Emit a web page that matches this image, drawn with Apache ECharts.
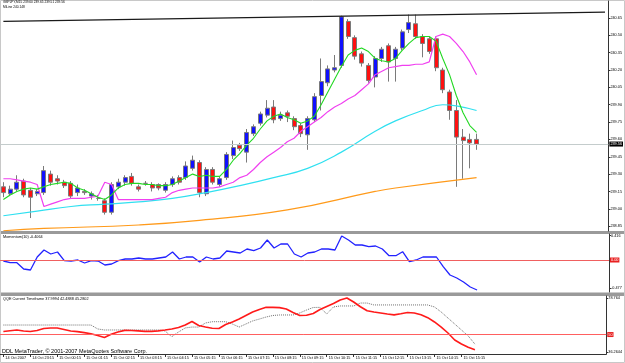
<!DOCTYPE html>
<html>
<head>
<meta charset="utf-8">
<script src="https://cdn.jsdelivr.net/npm/echarts@6/dist/echarts.min.js"></script>
<style>
html, body { margin: 0; padding: 0; background: #fff; }
#chart { width: 625px; height: 363px; }
</style>
</head>
<body>
<div id="chart"></div>
<script>
// GBPJPY M15 candles, 14 Oct 22:15 .. 15 Oct 15:45
const opens  = [239.19,239.13,239.17,239.24,239.16,239.13,239.14,239.30,239.26,239.23,239.22,239.14,239.15,239.11,239.09,239.07,238.97,239.19,239.23,239.28,239.19,239.22,239.21,239.21,239.16,239.21,239.27,239.27,239.35,239.40,239.13,239.34,239.21,239.27,239.46,239.55,239.49,239.65,239.74,239.81,239.88,239.78,239.83,239.78,239.72,239.64,239.77,239.98,240.09,240.20,240.24,240.62,240.48,240.34,240.24,240.14,240.30,240.41,240.30,240.39,240.55,240.60,240.49,240.47,240.47,240.20,240.01,239.85,239.62,239.60,239.60];
const highs  = [239.23,239.20,239.29,239.26,239.18,239.17,239.37,239.33,239.29,239.25,239.24,239.21,239.17,239.15,239.12,239.09,239.23,239.26,239.29,239.31,239.21,239.24,239.23,239.22,239.23,239.28,239.29,239.41,239.46,239.42,239.36,239.36,239.28,239.49,239.59,239.57,239.69,239.73,239.84,239.94,239.94,239.84,239.85,239.80,239.74,239.80,240.00,240.30,240.24,240.33,240.67,240.64,240.50,240.36,240.26,240.32,240.40,240.43,240.40,240.55,240.68,240.68,240.51,240.49,240.49,240.22,240.03,239.94,239.69,239.65,239.65];
const lows   = [239.10,239.11,239.15,239.10,238.92,239.11,239.12,239.20,239.21,239.18,239.09,239.11,239.12,239.08,239.07,238.95,238.95,239.17,239.20,239.20,239.15,239.20,239.15,239.16,239.14,239.19,239.21,239.25,239.33,239.10,239.11,239.21,239.19,239.25,239.43,239.50,239.40,239.63,239.72,239.79,239.74,239.76,239.75,239.68,239.62,239.51,239.75,239.85,240.06,240.18,240.22,240.47,240.29,240.23,240.09,240.05,240.27,240.10,240.10,240.37,240.52,240.47,240.31,240.34,240.19,240.00,239.77,239.19,239.26,239.35,239.51];
const closes = [239.14,239.17,239.23,239.12,239.10,239.15,239.33,239.23,239.24,239.20,239.11,239.18,239.14,239.13,239.09,238.97,239.21,239.23,239.27,239.22,239.17,239.22,239.18,239.18,239.21,239.26,239.23,239.37,239.42,239.14,239.34,239.23,239.26,239.47,239.53,239.52,239.66,239.71,239.82,239.87,239.77,239.81,239.80,239.71,239.65,239.78,239.97,240.10,240.21,240.22,240.66,240.49,240.32,240.26,240.11,240.30,240.38,240.27,240.38,240.53,240.61,240.49,240.43,240.36,240.22,240.03,239.85,239.62,239.59,239.57,239.56];

// moving averages on the price panel
const maGreen   = [239.08,239.12,239.15,239.17,239.18,239.17,239.19,239.21,239.22,239.23,239.22,239.18,239.16,239.13,239.10,239.08,239.12,239.18,239.21,239.22,239.22,239.21,239.21,239.20,239.20,239.21,239.24,239.27,239.30,239.28,239.29,239.28,239.28,239.34,239.42,239.48,239.55,239.61,239.69,239.76,239.80,239.82,239.79,239.77,239.74,239.76,239.80,239.90,240.01,240.12,240.23,240.33,240.37,240.39,240.36,240.30,240.28,240.27,240.30,240.37,240.43,240.48,240.49,240.49,240.45,240.30,240.16,239.98,239.83,239.72,239.66];
const maMagenta = [239.26,239.26,239.25,239.24,239.23,239.21,239.02,239.04,239.06,239.08,239.09,239.09,239.09,239.10,239.11,239.23,239.21,239.08,239.08,239.08,239.08,239.08,239.08,239.09,239.10,239.14,239.16,239.17,239.18,239.18,239.18,239.18,239.19,239.21,239.23,239.27,239.29,239.34,239.40,239.45,239.49,239.53,239.58,239.61,239.67,239.71,239.75,239.79,239.84,239.88,239.91,239.95,239.98,240.03,240.08,240.16,240.19,240.22,240.23,240.24,240.24,240.25,240.25,240.27,240.49,240.51,240.49,240.43,240.36,240.27,240.16];
const maCyan    = [[0,238.94],[5,238.98],[10,239.02],[15,239.04],[20,239.06],[25,239.09],[30,239.14],[35,239.20],[40,239.27],[45,239.35],[50,239.49],[55,239.67],[58,239.76],[62,239.85],[65,239.90],[67,239.89],[70,239.85]];
const maOrange  = [[0,238.81],[6,238.83],[20,238.86],[29,238.90],[42,238.99],[55,239.15],[58,239.18],[70,239.27]];
const trendLine = [[0,240.62],[89,240.70]];
const bid = 239.56;

// Momentum(10)
const momentum = [-0.017,-0.046,-0.046,-0.153,-0.17,0.051,0.17,0.102,0.136,-0.012,-0.017,0,-0.051,-0.012,-0.017,-0.085,-0.068,-0.012,0.017,0.017,0.034,0.017,0.017,0.034,0.051,0.136,0.017,0.051,0.051,-0.034,0.051,0.017,0.034,0.153,0.136,0.119,0.187,0.158,0.204,0.34,0.204,0.272,0.272,0.102,0.051,0.119,0.136,0.187,0.187,0.17,0.408,0.34,0.255,0.255,0.226,0.238,0.187,0.073,0.073,0.141,-0.029,0,0.051,0.051,0.051,-0.114,-0.255,-0.306,-0.374,-0.459,-0.51];

// QQE: fast (red) and trailing (dotted)
const qqeFast = [52.4,53.0,53.6,52.8,52.4,53.2,54.8,55.2,55.2,54.0,52.8,52.3,51.5,50.6,49.3,47.7,50.2,52.0,53.3,53.2,52.9,52.5,52.5,52.9,53.6,54.4,55.5,57.5,60.3,57.1,55.9,54.9,54.8,57.9,59.9,62.2,65.0,67.7,69.7,71.4,71.4,71.2,70.1,67.4,65.0,65.2,66.6,69.7,72.1,74.4,77.2,78.76,75.6,71.9,68.7,67.7,67.0,66.2,65.5,66.4,67.4,67.0,65.6,63.3,59.9,55.9,51.2,45.7,42.6,40.0,37.99];
const qqeSlow = [57.5,57.5,57.5,57.5,57.5,57.5,57.5,57.5,57.5,57.5,57.5,57.5,57.5,57.5,54.4,53.6,53.6,53.6,53.6,53.6,53.6,53.6,53.6,53.6,52.8,48.3,52.0,55.2,55.9,55.9,59.1,60.1,60.1,60.1,58.3,55.9,58.3,60.7,62.2,63.8,65.0,65.4,65.4,65.4,67.0,69.3,71.3,71.4,66.2,71.7,72.5,72.5,72.5,74.8,74.8,73.3,73.3,73.3,73.3,73.3,73.3,73.3,73.3,73.3,71.7,67.7,63.0,58.3,53.6,48.9,42.49];

// axis labels
const priceTicks = [240.65,240.50,240.35,240.20,240.05,239.90,239.75,239.60,239.45,239.30,239.15,239.00,238.85];
const momTicks = [0.416, -0.477];
const qqeTicks = [78.764, 36.2644];
const timeLabels = ['14 Oct 2007','14 Oct 23:15','15 Oct 00:15','15 Oct 01:15','15 Oct 02:15','15 Oct 03:15','15 Oct 04:15','15 Oct 05:15','15 Oct 06:15','15 Oct 07:15','15 Oct 08:15','15 Oct 09:15','15 Oct 10:15','15 Oct 11:15','15 Oct 12:15','15 Oct 13:15','15 Oct 14:15','15 Oct 15:15'];

const SLOTS = 90;
const cats = Array.from({ length: SLOTS }, (_, i) => String(i));
const FONT = 'Liberation Sans';
const SMALL = 3.8;
const showTime = (i) => i % 4 === 0 && i / 4 < timeLabels.length;

const chart = echarts.init(document.getElementById('chart'), null, { renderer: 'canvas' });

const grids = [
  { left: 0, right: 16, top: 1, height: 230 },
  { left: 0, right: 16, top: 234, height: 58 },
  { left: 0, right: 16, top: 296, height: 58 },
];

const xAxisBase = (gi) => ({
  type: 'category', gridIndex: gi, data: cats, boundaryGap: true,
  axisLine: { show: false }, axisTick: { show: false }, axisLabel: { show: false }, splitLine: { show: false },
});

const yAxisBase = (gi, min, max, ticks, fmt) => ({
  type: 'value', gridIndex: gi, position: 'right', min, max, scale: true,
  splitLine: { show: false },
  axisLine: { show: true, lineStyle: { color: '#333', width: 1 } },
  axisTick: { show: true, length: 2, customValues: ticks, lineStyle: { color: '#333' } },
  axisLabel: { show: true, customValues: ticks, formatter: fmt, fontSize: SMALL, fontFamily: FONT, color: '#000', margin: 2 },
});

const levelLabel = (text, bg) => ({
  show: true, position: 'end', formatter: text, distance: 1,
  fontSize: SMALL, fontFamily: FONT, color: '#fff', backgroundColor: bg, padding: [1, 1, 0, 1],
});

const textStyle = (size) => ({ fontSize: size, fontFamily: FONT, fontWeight: 'normal', color: '#000' });

chart.setOption({
  animation: false,
  backgroundColor: '#fff',
  title: [
    { text: 'GBPJPY,M15 239.60 239.65 239.51 239.56', left: 3, top: 1, padding: 0, textStyle: textStyle(3.2) },
    { text: 'MiLine 240.148', left: 3, top: 5.5, padding: 0, textStyle: textStyle(3.2) },
    { text: 'Momentum(10) -0.4064', left: 3, top: 235, padding: 0, textStyle: textStyle(SMALL) },
    { text: 'QQE Current Timeframe 37.9994 42.4888 45.2802', left: 3, top: 297, padding: 0, textStyle: textStyle(SMALL) },
    { text: 'DDL MetaTrader, \u00a9 2001-2007 MetaQuotes Software Corp.', left: 2, top: 348, padding: 0, textStyle: textStyle(5.5) },
  ],
  graphic: [
    { type: 'rect', shape: { x: 0, y: 231, width: 625, height: 3 }, style: { fill: '#9a9a9a' }, silent: true },
    { type: 'rect', shape: { x: 0, y: 292.5, width: 625, height: 3.5 }, style: { fill: '#9a9a9a' }, silent: true },
    { type: 'rect', shape: { x: 0.5, y: 0.5, width: 624, height: 362 }, style: { fill: 'none', stroke: '#c8c8c8', lineWidth: 1 }, silent: true },
  ],
  grid: grids,
  xAxis: [
    xAxisBase(0),
    xAxisBase(1),
    Object.assign(xAxisBase(2), {
      axisLine: { show: true, lineStyle: { color: '#333' } },
      axisTick: { show: true, alignWithLabel: true, interval: (i) => showTime(i), length: 3, lineStyle: { color: '#333' } },
      axisLabel: {
        show: true, interval: (i) => showTime(i), formatter: (v) => timeLabels[Number(v) / 4] || '',
        align: 'left', padding: [0, 0, 0, 2], margin: 2, fontSize: SMALL, fontFamily: FONT, color: '#000',
      },
    }),
  ],
  yAxis: [
    yAxisBase(0, 238.808, 240.797, priceTicks, (v) => v.toFixed(2)),
    yAxisBase(1, -0.544, 0.442, momTicks, (v) => String(v)),
    yAxisBase(2, 34.69, 80.34, qqeTicks, (v) => String(v)),
  ],
  series: [
    {
      type: 'line', xAxisIndex: 0, yAxisIndex: 0, data: maOrange, smooth: true, symbol: 'none',
      lineStyle: { color: '#ff9a1a', width: 1.2 },
    },
    {
      type: 'line', xAxisIndex: 0, yAxisIndex: 0, data: maCyan, smooth: true, symbol: 'none',
      lineStyle: { color: '#30e0f0', width: 1.2 },
    },
    {
      type: 'line', xAxisIndex: 0, yAxisIndex: 0, data: maMagenta, symbol: 'none',
      lineStyle: { color: '#f040f0', width: 1.2 },
    },
    {
      type: 'candlestick', xAxisIndex: 0, yAxisIndex: 0, barWidth: 4.5,
      data: opens.map((o, i) => [o, closes[i], lows[i], highs[i]]),
      itemStyle: { color: '#1010ff', color0: '#ff1010', borderColor: '#7a7a7a', borderColor0: '#7a7a7a', borderWidth: 1 },
      markLine: {
        silent: true, symbol: 'none',
        lineStyle: { color: '#c4cccc', width: 1, type: 'solid' },
        label: Object.assign(levelLabel(bid.toFixed(2), '#000')),
        data: [{ yAxis: bid }],
      },
    },
    {
      type: 'line', xAxisIndex: 0, yAxisIndex: 0, data: maGreen, symbol: 'none',
      lineStyle: { color: '#22d822', width: 1.1 },
    },
    {
      type: 'line', xAxisIndex: 0, yAxisIndex: 0, data: trendLine, symbol: 'none',
      lineStyle: { color: '#1a1a1a', width: 1.2 },
    },
    {
      type: 'line', xAxisIndex: 1, yAxisIndex: 1, data: momentum, symbol: 'none',
      lineStyle: { color: '#2222ff', width: 1.3 },
      markLine: {
        silent: true, symbol: 'none',
        lineStyle: { color: '#f06060', width: 1, type: 'solid' },
        label: levelLabel('0.00', '#e82020'),
        data: [{ yAxis: 0 }],
      },
    },
    {
      type: 'line', xAxisIndex: 2, yAxisIndex: 2, data: qqeSlow, symbol: 'none',
      lineStyle: { color: '#707070', width: 1, type: 'dotted' },
      markLine: {
        silent: true, symbol: 'none',
        lineStyle: { color: '#ff6060', width: 1, type: 'solid' },
        label: levelLabel('50', '#e82020'),
        data: [{ yAxis: 50 }],
      },
    },
    {
      type: 'line', xAxisIndex: 2, yAxisIndex: 2, data: qqeFast, symbol: 'none',
      lineStyle: { color: '#ff1a1a', width: 1.6 },
    },
  ],
});
</script>
</body>
</html>
